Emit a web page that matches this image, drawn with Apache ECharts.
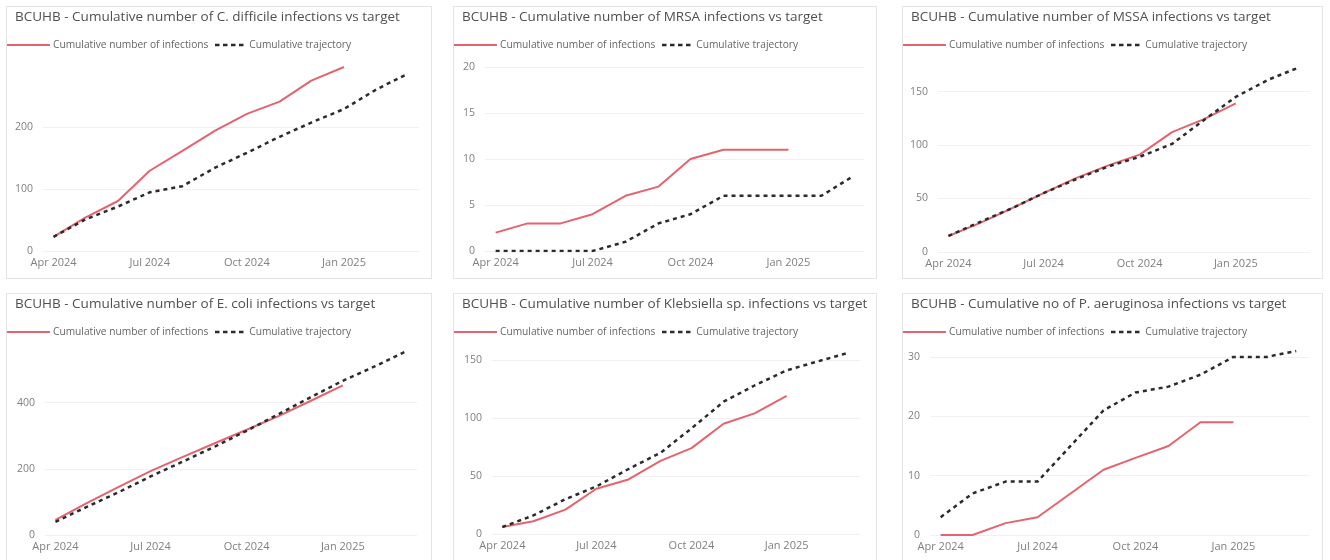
<!DOCTYPE html>
<html>
<head>
<meta charset="utf-8">
<script src="https://cdn.jsdelivr.net/npm/echarts@6/dist/echarts.min.js"></script>
<style>
  html, body { margin: 0; padding: 0; background: #fff; width: 1330px; height: 560px; overflow: hidden; }
  .panel { position: absolute; border: 1px solid #e4e4e4; box-sizing: border-box; background: #fff; }
</style>
</head>
<body>
<div id="wrap"></div>
<script>
// Months covered by the financial year (first of each month)
const months = ['2024-04-01','2024-05-01','2024-06-01','2024-07-01','2024-08-01','2024-09-01',
                '2024-10-01','2024-11-01','2024-12-01','2025-01-01','2025-02-01','2025-03-01'];
const tickMonths = ['2024-04-01','2024-07-01','2024-10-01','2025-01-01'];
const tickLabels = ['Apr 2024','Jul 2024','Oct 2024','Jan 2025'];

const legendNames = ['Cumulative number of infections', 'Cumulative trajectory'];

const titles = [
  'BCUHB - Cumulative number of C. difficile infections vs target',
  'BCUHB - Cumulative number of MRSA infections vs target',
  'BCUHB - Cumulative number of MSSA infections vs target',
  'BCUHB - Cumulative number of E. coli infections vs target',
  'BCUHB - Cumulative number of Klebsiella sp. infections vs target',
  'BCUHB - Cumulative no of P. aeruginosa infections vs target'
];

// Cumulative infections (Apr 2024 - Jan 2025) and trajectory (Apr 2024 - Mar 2025)
const cdiffInfections   = [23, 54, 81, 130, 162, 195, 222, 242, 276, 298];
const cdiffTrajectory   = [23, 51, 72, 95, 105, 135, 159, 185, 208, 230, 262, 286];
const mrsaInfections    = [2, 3, 3, 4, 6, 7, 10, 11, 11, 11];
const mrsaTrajectory    = [0, 0, 0, 0, 1, 3, 4, 6, 6, 6, 6, 8];
const mssaInfections    = [15, 27, 41, 55, 69, 81, 91, 112, 124, 139];
const mssaTrajectory    = [15, 28, 41, 55, 68, 80, 89, 101, 123, 145, 161, 172];
const ecoliInfections   = [46, 96, 146, 193, 236, 278, 318, 360, 405, 452];
const ecoliTrajectory   = [40, 85, 130, 177, 222, 268, 315, 366, 416, 466, 510, 553];
const klebInfections    = [6, 11, 21, 39, 47, 63, 74, 95, 104, 119];
const klebTrajectory    = [6, 16, 30, 41, 56, 70, 91, 114, 128, 141, 149, 156];
const paeruInfections   = [0, 0, 2, 3, 7, 11, 13, 15, 19, 19];
const paeruTrajectory   = [3, 7, 9, 9, 15, 21, 24, 25, 27, 30, 30, 31];

// y-axis tick steps and fixed maxima (null = top of data)
const yIntervals = [100, 5, 50, 200, 50, 10];
const yMaxima    = [null, 20, null, null, null, null];

const infectionSets  = [cdiffInfections, mrsaInfections, mssaInfections, ecoliInfections, klebInfections, paeruInfections];
const trajectorySets = [cdiffTrajectory, mrsaTrajectory, mssaTrajectory, ecoliTrajectory, klebTrajectory, paeruTrajectory];

// Panel boxes (page pixels) and plot-area insets inside each panel
const boxes = [
  {x: 6,   y: 6,   w: 426, h: 273},
  {x: 453, y: 6,   w: 424, h: 273},
  {x: 902, y: 6,   w: 421, h: 273},
  {x: 6,   y: 293, w: 426, h: 273},
  {x: 453, y: 293, w: 424, h: 273},
  {x: 902, y: 293, w: 421, h: 273}
];
const insets = [
  {left: 36, right: 12, top: 60, bottom: 27},
  {left: 31, right: 12, top: 60, bottom: 27},
  {left: 35, right: 12, top: 61, bottom: 26},
  {left: 38, right: 14, top: 58, bottom: 30},
  {left: 38, right: 16, top: 59, bottom: 31},
  {left: 27, right: 13, top: 57, bottom: 30}
];

const FONT = '"Open Sans", "Noto Sans", sans-serif';
const RED = '#e5636e';
const DARK = '#2b2b2b';
// Legend keys: a solid bar and a row of short dashes
const SOLID_KEY = 'rect';
const DASH_KEY = 'path://M0,0h4.5v2.5h-4.5zM8,0h4.5v2.5h-4.5zM16,0h4.5v2.5h-4.5zM24,0h4.5v2.5h-4.5z';

// Dates are placed on a numeric (millisecond) axis
function ts(s) { const p = s.split('-').map(Number); return new Date(p[0], p[1] - 1, p[2]).getTime(); }
const tickValues = tickMonths.map(ts);
const xMin = new Date(2024, 2, 22).getTime();
const xMax = new Date(2025, 2, 13).getTime();

const wrap = document.getElementById('wrap');
titles.forEach(function (title, k) {
  const b = boxes[k];
  const div = document.createElement('div');
  div.className = 'panel';
  div.style.left = b.x + 'px';
  div.style.top = b.y + 'px';
  div.style.width = b.w + 'px';
  div.style.height = b.h + 'px';
  wrap.appendChild(div);

  const step = yIntervals[k];
  const inf = infectionSets[k];
  const traj = trajectorySets[k];
  const yMax = yMaxima[k] != null ? yMaxima[k] : Math.max.apply(null, inf.concat(traj));

  const chart = echarts.init(div, null, {renderer: 'canvas'});
  chart.setOption({
    animation: false,
    textStyle: {fontFamily: FONT},
    title: {
      text: title, left: 8, top: 3, padding: 0,
      textStyle: {fontFamily: FONT, fontSize: 13.5, fontWeight: 'normal', color: '#505050'}
    },
    legend: [
      {
        data: [{name: legendNames[0], icon: SOLID_KEY, itemStyle: {color: RED}}],
        left: -1, top: 33, padding: 0,
        itemWidth: 44, itemHeight: 2, itemGap: 0,
        textStyle: {fontFamily: FONT, fontSize: 10.2, color: '#666', padding: [0, 0, 0, -2]}
      },
      {
        data: [{name: legendNames[1], icon: DASH_KEY, itemStyle: {color: DARK}}],
        left: 208, top: 33, padding: 0,
        itemWidth: 30, itemHeight: 2.5, itemGap: 0,
        textStyle: {fontFamily: FONT, fontSize: 10.2, color: '#666'}
      }
    ],
    grid: Object.assign({containLabel: false}, insets[k]),
    xAxis: {
      type: 'value', min: xMin, max: xMax,
      axisLine: {show: false}, axisTick: {show: false}, splitLine: {show: false},
      axisLabel: {
        customValues: tickValues,
        margin: 6, fontSize: 11, color: '#808080', fontFamily: FONT,
        formatter: function (v) { const i = tickValues.indexOf(v); return i >= 0 ? tickLabels[i] : ''; }
      }
    },
    yAxis: {
      type: 'value', min: 0, max: yMax, interval: step,
      axisLine: {show: false}, axisTick: {show: false},
      splitLine: {
        show: true, showMaxLine: yMax % step === 0,
        lineStyle: {color: '#f0f0f0', width: 1}
      },
      axisLabel: {
        margin: 10, fontSize: 10.5, color: '#808080', fontFamily: FONT,
        formatter: function (v) { return v % step === 0 ? String(v) : ''; }
      }
    },
    series: [
      {
        name: legendNames[0], type: 'line', symbol: 'none',
        data: inf.map(function (v, i) { return [ts(months[i]), v]; }),
        lineStyle: {color: RED, width: 2}, itemStyle: {color: RED}
      },
      {
        name: legendNames[1], type: 'line', symbol: 'none',
        data: traj.map(function (v, i) { return [ts(months[i]), v]; }),
        lineStyle: {color: DARK, width: 2.5, type: [4, 4]}, itemStyle: {color: DARK}
      }
    ]
  });
});
</script>
</body>
</html>
